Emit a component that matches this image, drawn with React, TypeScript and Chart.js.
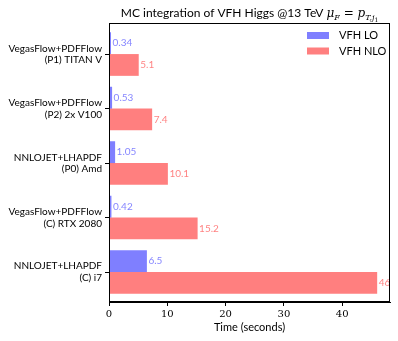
import React, { useEffect, useRef } from "react";
import { Chart, registerables } from "chart.js";

Chart.register(...registerables);

// top-to-bottom order
const categories: string[][] = [
  ["VegasFlow+PDFFlow", "(P1) TITAN V"],
  ["VegasFlow+PDFFlow", "(P2) 2x V100"],
  ["NNLOJET+LHAPDF", "(P0) Amd"],
  ["VegasFlow+PDFFlow", "(C) RTX 2080"],
  ["NNLOJET+LHAPDF", "(C) i7"],
];
const loValues = [0.34, 0.53, 1.05, 0.42, 6.5];
const nloValues = [5.1, 7.4, 10.1, 15.2, 46];
const loLabels = ["0.34", "0.53", "1.05", "0.42", "6.5"];
const nloLabels = ["5.1", "7.4", "10.1", "15.2", "46"];
const seriesNames = ["VFH LO", "VFH NLO"];
const xTicks = [0, 10, 20, 30, 40];

const LO_COLOR = "rgba(0,0,255,0.5)";
const NLO_COLOR = "rgba(255,0,0,0.5)";
const SANS = "Lato";
const SERIF = "'DejaVu Serif'";

const n = categories.length;
const pos = (i: number) => n - 1 - i;

const titlePlugin = {
  id: "customTitle",
  afterDraw(chart: any) {
    const ctx = chart.ctx;
    const area = chart.chartArea;
    const cx = (area.left + area.right) / 2;
    const base = 17;
    const pieces: { t: string; f: string; dy: number }[] = [
      { t: "MC integration of VFH Higgs @13 TeV ", f: `12px ${SANS}`, dy: 0 },
      { t: "μ", f: `italic 12px ${SERIF}`, dy: 0 },
      { t: "F", f: `italic 8px ${SERIF}`, dy: 3 },
      { t: " = ", f: `12px ${SERIF}`, dy: 0 },
      { t: "p", f: `italic 12px ${SERIF}`, dy: 0 },
      { t: "T,j", f: `italic 8px ${SERIF}`, dy: 3 },
      { t: "1", f: `6px ${SERIF}`, dy: 5 },
    ];
    ctx.save();
    let total = 0;
    const widths = pieces.map((p) => {
      ctx.font = p.f;
      const w = ctx.measureText(p.t).width;
      total += w;
      return w;
    });
    let x = cx - total / 2;
    ctx.fillStyle = "#000";
    ctx.textBaseline = "alphabetic";
    ctx.textAlign = "left";
    pieces.forEach((p, i) => {
      ctx.font = p.f;
      ctx.fillText(p.t, x, base + p.dy);
      x += widths[i];
    });
    ctx.restore();
  },
};

const framePlugin = {
  id: "frame",
  afterDraw(chart: any) {
    const ctx = chart.ctx;
    const a = chart.chartArea;
    ctx.save();
    ctx.strokeStyle = "#000";
    ctx.lineWidth = 1;
    ctx.strokeRect(a.left + 0.5, a.top + 0.5, a.right - a.left - 1, a.bottom - a.top - 1);
    ctx.restore();
  },
};

const valueLabelPlugin = {
  id: "valueLabels",
  afterDatasetsDraw(chart: any) {
    const ctx = chart.ctx;
    ctx.save();
    ctx.font = `10px ${SANS}`;
    ctx.textBaseline = "middle";
    ctx.textAlign = "left";
    [loLabels, nloLabels].forEach((labels, di) => {
      const meta = chart.getDatasetMeta(di);
      ctx.fillStyle = di === 0 ? LO_COLOR : NLO_COLOR;
      meta.data.forEach((bar: any, i: number) => {
        ctx.fillText(labels[i], bar.x + 1.5, bar.y);
      });
    });
    ctx.restore();
  },
};

const legendPlugin = {
  id: "customLegend",
  afterDraw(chart: any) {
    const ctx = chart.ctx;
    ctx.save();
    ctx.font = `11px ${SANS}`;
    ctx.textBaseline = "middle";
    ctx.textAlign = "left";
    const items = [
      { c: LO_COLOR, t: seriesNames[0], y: 35.5 },
      { c: NLO_COLOR, t: seriesNames[1], y: 51 },
    ];
    items.forEach((it) => {
      ctx.fillStyle = it.c;
      ctx.fillRect(307, it.y - 3.5, 22, 7);
      ctx.fillStyle = "#000";
      ctx.fillText(it.t, 339, it.y);
    });
    ctx.restore();
  },
};

export default function App() {
  const ref = useRef<HTMLCanvasElement>(null);
  useEffect(() => {
    if (!ref.current) return;
    const chart = new Chart(ref.current, {
      type: "bar",
      data: {
        datasets: [
          {
            label: seriesNames[0],
            data: loValues.map((v, i) => ({ x: v, y: pos(i) })),
            backgroundColor: LO_COLOR,
            borderWidth: 0,
            categoryPercentage: 0.8,
            barPercentage: 1.0,
          },
          {
            label: seriesNames[1],
            data: nloValues.map((v, i) => ({ x: v, y: pos(i) })),
            backgroundColor: NLO_COLOR,
            borderWidth: 0,
            categoryPercentage: 0.8,
            barPercentage: 1.0,
          },
        ] as any,
      },
      options: {
        indexAxis: "y",
        animation: false,
        responsive: false,
        maintainAspectRatio: false,
        layout: { padding: { left: 0, right: 8, top: 23, bottom: 0 } },
        plugins: {
          legend: { display: false },
          title: { display: false },
          tooltip: { enabled: false },
        },
        scales: {
          x: {
            type: "linear",
            min: 0,
            max: 48.2,
            offset: false,
            grid: { display: true, offset: false, drawOnChartArea: false, drawTicks: true, tickLength: 4, color: "#000" },
            border: { display: true, color: "#000" },
            afterBuildTicks: (scale: any) => {
              scale.ticks = xTicks.map((v) => ({ value: v }));
            },
            ticks: {
              color: "#000",
              font: { family: "DejaVu Serif", size: 10 },
              padding: 2,
              maxRotation: 0,
              callback: (v: any) => String(v),
            },
            title: {
              display: true,
              text: "Time (seconds)",
              color: "#000",
              font: { family: SANS, size: 11 },
              padding: { top: 2, bottom: 7 },
            },
            afterFit: (scale: any) => {
              scale.height = 39;
            },
          },
          y: {
            type: "linear",
            min: -0.55,
            max: 4.57,
            offset: false,
            grid: { display: true, offset: false, drawOnChartArea: false, drawTicks: true, tickLength: 4, color: "#000" },
            border: { display: true, color: "#000" },
            afterBuildTicks: (scale: any) => {
              scale.ticks = categories.map((_, i) => ({ value: pos(i) }));
            },
            ticks: {
              color: "#000",
              font: { family: SANS, size: 10, lineHeight: 1.15 },
              padding: 3,
              callback: (v: any) => categories[n - 1 - Number(v)],
            },
            afterFit: (scale: any) => {
              scale.width = 109;
            },
          },
        },
      },
      plugins: [valueLabelPlugin, framePlugin, legendPlugin, titlePlugin],
    } as any);
    return () => chart.destroy();
  }, []);
  return (
    <div style={{ position: "absolute", left: 0, top: 0, width: 398, height: 341, background: "#fff" }}>
      <canvas ref={ref} width={398} height={341} style={{ width: 398, height: 341, display: "block" }} />
    </div>
  );
}
